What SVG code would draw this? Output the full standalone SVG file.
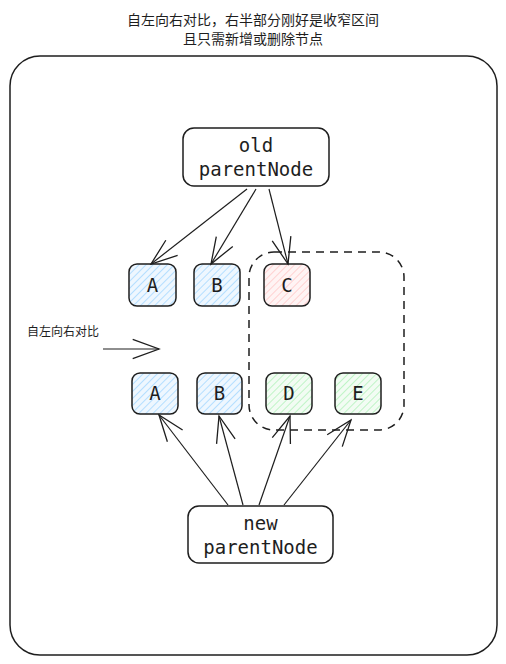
<svg xmlns="http://www.w3.org/2000/svg" width="506" height="664" viewBox="0 0 506 664">
<style>
.t{font-family:"Noto Sans CJK SC","Noto Sans",sans-serif;fill:#1e1e1e}
.m{font-family:"DejaVu Sans Mono","Liberation Mono",monospace;font-size:19px;fill:#1e1e1e;text-anchor:middle}
.n{stroke:#1e1e1e;stroke-width:1.5}
.c{fill:none;stroke:#1e1e1e;stroke-width:1.2}
</style>
<defs>
<pattern id="hb" width="5" height="5" patternUnits="userSpaceOnUse" patternTransform="rotate(45)"><rect width="5" height="5" fill="#eef7ff"/><line x1="0" y1="0" x2="0" y2="5" stroke="#a5d8ff" stroke-width="1.6"/></pattern>
<pattern id="hr" width="5" height="5" patternUnits="userSpaceOnUse" patternTransform="rotate(45)"><rect width="5" height="5" fill="#fff4f4"/><line x1="0" y1="0" x2="0" y2="5" stroke="#ffc9c9" stroke-width="1.6"/></pattern>
<pattern id="hg" width="5" height="5" patternUnits="userSpaceOnUse" patternTransform="rotate(45)"><rect width="5" height="5" fill="#f2fcf3"/><line x1="0" y1="0" x2="0" y2="5" stroke="#b2f2bb" stroke-width="1.6"/></pattern>
<marker id="ah" markerWidth="30" markerHeight="22" refX="28" refY="11" orient="auto" markerUnits="userSpaceOnUse"><path d="M1.7,1.4 L28,11 L1.7,20.6" fill="none" stroke="#1e1e1e" stroke-width="1.3"/></marker>
</defs>
<rect width="506" height="664" fill="#fff"/>
<g id="title"><text class="t" font-size="14" text-anchor="middle"><tspan x="253" y="25">自左向右对比，右半部分刚好是收窄区间</tspan><tspan x="253" y="44">且只需新增或删除节点</tspan></text></g>
<g id="frame"><rect x="10" y="56" width="487" height="599" rx="30" fill="none" stroke="#1e1e1e" stroke-width="1.5"/></g>
<g id="range"><rect x="249" y="252" width="155" height="178" rx="25" fill="none" stroke="#1e1e1e" stroke-width="1.5" stroke-dasharray="8 6"/></g>
<g id="old"><rect class="n" x="183" y="128" width="146" height="58" rx="11" fill="#fff"/><text class="m"><tspan x="256" y="152">old</tspan><tspan x="256" y="176">parentNode</tspan></text></g>
<g id="oA"><rect class="n" x="129" y="264" width="47" height="42" rx="8" fill="url(#hb)"/><text class="m" x="152.5" y="292">A</text></g>
<g id="oB"><rect class="n" x="194" y="264" width="46" height="42" rx="8" fill="url(#hb)"/><text class="m" x="217" y="292">B</text></g>
<g id="oC"><rect class="n" x="264" y="264" width="46" height="42" rx="8" fill="url(#hr)"/><text class="m" x="287" y="292">C</text></g>
<g id="nA"><rect class="n" x="132" y="373" width="46" height="41" rx="8" fill="url(#hb)"/><text class="m" x="155" y="400">A</text></g>
<g id="nB"><rect class="n" x="197" y="373" width="45" height="41" rx="8" fill="url(#hb)"/><text class="m" x="219.5" y="400">B</text></g>
<g id="nD"><rect class="n" x="266" y="373" width="46" height="41" rx="8" fill="url(#hg)"/><text class="m" x="289" y="400">D</text></g>
<g id="nE"><rect class="n" x="335" y="373" width="46" height="41" rx="8" fill="url(#hg)"/><text class="m" x="358" y="400">E</text></g>
<g id="new"><rect class="n" x="188" y="506" width="145" height="57" rx="11" fill="#fff"/><text class="m"><tspan x="260.5" y="530">new</tspan><tspan x="260.5" y="554">parentNode</tspan></text></g>
<g id="label"><text class="t" font-size="12" x="27" y="336">自左向右对比</text></g>
<g id="connectors">
<line class="c" x1="247" y1="189" x2="151" y2="264" marker-end="url(#ah)"/>
<line class="c" x1="256" y1="189" x2="211" y2="264" marker-end="url(#ah)"/>
<line class="c" x1="269" y1="189" x2="288" y2="264" marker-end="url(#ah)"/>
<line class="c" x1="228" y1="505" x2="159" y2="415" marker-end="url(#ah)"/>
<line class="c" x1="243" y1="505" x2="219" y2="416" marker-end="url(#ah)"/>
<line class="c" x1="259" y1="505" x2="290" y2="416" marker-end="url(#ah)"/>
<line class="c" x1="284" y1="505" x2="351" y2="420" marker-end="url(#ah)"/>
<line class="c" stroke-width="1.8" x1="103" y1="349" x2="159" y2="349" marker-end="url(#ah)"/>
</g>
</svg>
